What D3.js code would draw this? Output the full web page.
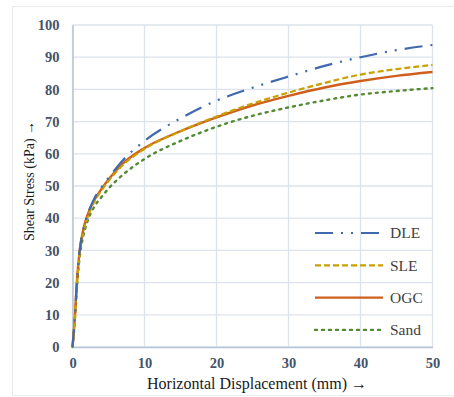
<!DOCTYPE html>
<html>
<head>
<meta charset="utf-8">
<script src="https://cdn.jsdelivr.net/npm/d3@7"></script>
<style>
  body { margin: 0; background: #fff; }
  svg { display: block; }
  svg text { font-family: 'Liberation Serif', 'DejaVu Serif', serif; }
</style>
</head>
<body>
<script>
'use strict';

let displacement = [0, 0.35, 0.6, 1, 1.5, 2, 3, 4, 5, 7, 10, 15, 20, 25, 30, 35, 40, 45, 50];
let dle  = [0, 10, 20, 30, 36.5, 40.5, 46, 49.5, 52.5, 58, 64, 71, 76.5, 80.5, 84, 87.3, 90, 92.2, 93.8];
let sle  = [0, 9.5, 19, 29, 35.5, 39.5, 45, 48.5, 51.5, 56.5, 61.5, 67, 71.6, 75.6, 79, 82, 84.6, 86.3, 87.6];
let ogc  = [0, 10, 20, 30, 36.5, 40.5, 45.5, 49, 52, 57, 61.8, 67, 71.3, 75, 78, 80.6, 82.6, 84.2, 85.4];
let sand = [0, 9, 18, 28, 34.5, 38.5, 43.5, 46.5, 49.2, 53.5, 58.4, 64, 68.4, 71.8, 74.4, 76.6, 78.4, 79.5, 80.4];

let xTicks = [0, 10, 20, 30, 40, 50];
let yTicks = [0, 10, 20, 30, 40, 50, 60, 70, 80, 90, 100];

let series = [
  {name: 'DLE', values: dle, color: '#4169AE', dash: '18 8 2 8 2 8', width: 2.2},
  {name: 'SLE', values: sle, color: '#C9A000', dash: '6 3', width: 2.2},
  {name: 'OGC', values: ogc, color: '#CF5F1C', dash: null, width: 2.4},
  {name: 'Sand', values: sand, color: '#538A33', dash: '2 5', width: 2.4}
];

let width = 454;
let height = 397;
let margin = {top: 25, right: 21.5, bottom: 50, left: 72.5};

let svg = d3.select('body').append('svg')
  .attr('width', width)
  .attr('height', height);

// outer frame
svg.append('rect')
  .attr('x', 12.5).attr('y', 6.5)
  .attr('width', 460).attr('height', 389)
  .attr('fill', 'none')
  .attr('stroke', '#ebebeb');

let x = d3.scaleLinear().domain([0, 50]).range([margin.left, width - margin.right]);
let y = d3.scaleLinear().domain([0, 100]).range([height - margin.bottom, margin.top]);

let grid = svg.append('g').attr('class', 'grid');
grid.selectAll('.hgrid')
  .data(yTicks)
  .enter().append('line')
    .attr('x1', x(0)).attr('x2', x(50))
    .attr('y1', d => y(d)).attr('y2', d => y(d))
    .attr('stroke', '#dde3ec')
    .attr('stroke-width', 1.3);
grid.selectAll('.vgrid')
  .data(xTicks)
  .enter().append('line')
    .attr('x1', d => x(d)).attr('x2', d => x(d))
    .attr('y1', y(0)).attr('y2', y(100))
    .attr('stroke', '#dde3ec')
    .attr('stroke-width', 1.3);

// axes
let xAxis = svg.append('g')
  .attr('transform', 'translate(0,' + y(0) + ')')
  .call(d3.axisBottom(x).tickValues(xTicks).tickSize(0).tickPadding(11));
let yAxis = svg.append('g')
  .attr('transform', 'translate(' + x(0) + ',0)')
  .call(d3.axisLeft(y).tickValues(yTicks).tickSize(0).tickPadding(13));

[xAxis, yAxis].forEach(function(a) {
  a.attr('font-family', null);
  a.select('.domain').attr('stroke', '#b7c4d8').attr('stroke-width', 1.5);
  a.selectAll('text')
    .style('font-size', '14.5px')
    .style('font-weight', 'bold')
    .attr('fill', '#44546A');
});

// curves
let line = d3.line()
  .x((d, i) => x(displacement[i]))
  .y(d => y(d))
  .curve(d3.curveMonotoneX);

svg.append('g').selectAll('path')
  .data(series.slice().reverse())
  .enter().append('path')
    .attr('d', d => line(d.values))
    .attr('fill', 'none')
    .attr('stroke', d => d.color)
    .attr('stroke-width', d => d.width)
    .attr('stroke-dasharray', d => d.dash)
    .attr('stroke-linecap', d => d.name === 'Sand' ? 'round' : 'butt');

// legend
let legend = svg.append('g').selectAll('g')
  .data(series)
  .enter().append('g')
    .attr('transform', (d, i) => 'translate(315,' + (233 + i * 32.3) + ')');

legend.append('line')
  .attr('x1', 0).attr('x2', 68)
  .attr('stroke', d => d.color)
  .attr('stroke-width', d => d.width)
  .attr('stroke-dasharray', d => d.dash)
  .attr('stroke-linecap', d => d.name === 'Sand' ? 'round' : 'butt');

legend.append('text')
  .attr('x', 75)
  .attr('dy', '0.35em')
  .style('font-size', '15.5px')
  .attr('fill', '#404040')
  .text(d => d.name);

// axis titles
svg.append('text')
  .attr('x', 257).attr('y', 389)
  .attr('text-anchor', 'middle')
  .style('font-size', '16px')
  .attr('fill', '#1a1a1a')
  .text('Horizontal Displacement (mm) \u2192');

svg.append('text')
  .attr('transform', 'translate(34,181) rotate(-90)')
  .attr('text-anchor', 'middle')
  .style('font-size', '14px')
  .attr('fill', '#1a1a1a')
  .text('Shear Stress (kPa) \u2192');
</script>
</body>
</html>
